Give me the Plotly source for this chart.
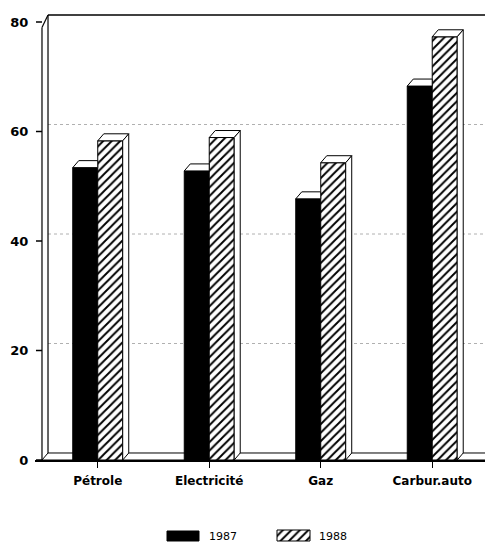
import plotly.graph_objects as go

# ---- data ----
categories = ["Pétrole", "Electricité", "Gaz", "Carbur.auto"]
values_1987 = [53.4, 52.8, 47.7, 68.3]
values_1988 = [58.3, 58.9, 54.3, 77.3]
series_names = ["1987", "1988"]
y_ticks = [0, 20, 40, 60, 80]

# ---- geometry / style ----
OFF = 8                 # page body margin
W, H = 493 - OFF, 548 - OFF
bar_w = 0.224           # width of one bar in category units
dx, dy = 0.054, 1.28    # 3D depth offset (x in category units, y in value units)
x_min, x_max = -0.56, 3.545
y_max = 81.5
px_left = 35.3 - OFF
px_bottom = 460 - OFF
px_top = 13.8 - OFF

fig = go.Figure()

xs = list(range(len(categories)))
x87 = [i - bar_w / 2 for i in xs]
x88 = [i + bar_w / 2 for i in xs]

fig.add_trace(go.Bar(
    x=x87, y=values_1987, width=bar_w, name=series_names[0],
    marker=dict(color="black", line=dict(color="black", width=1)),
    showlegend=False, xaxis="x", yaxis="y",
))
fig.add_trace(go.Bar(
    x=x88, y=values_1988, width=bar_w, name=series_names[1],
    marker=dict(color="white", line=dict(color="black", width=1),
                pattern=dict(shape="/", fgcolor="black", bgcolor="white",
                             size=6, solidity=0.32)),
    showlegend=False, xaxis="x", yaxis="y",
))

shapes = []

def poly(pts, fill="white", layer="above", width=1):
    d = "M " + " L ".join(f"{px},{py}" for px, py in pts) + " Z"
    return dict(type="path", path=d, xref="x", yref="y", fillcolor=fill,
                line=dict(color="black", width=width), layer=layer)

def seg(x0, y0, x1, y1, color="black", width=1.2, dash="solid", layer="below"):
    return dict(type="line", x0=x0, y0=y0, x1=x1, y1=y1, xref="x", yref="y",
                line=dict(color=color, width=width, dash=dash), layer=layer)

left = -0.5
right = len(categories) - 0.5

# floor slab
shapes.append(poly([(left, 0), (left + dx, dy), (right + dx, dy), (right, 0)],
                   layer="below"))
# back-wall dotted gridlines
for v in y_ticks[1:-1]:
    shapes.append(seg(left + dx, v + dy, x_max + 0.1, v + dy, color="#b0b0b0",
                      width=1, dash="dot"))
# back wall left edge and top edge
shapes.append(seg(left + dx, dy, left + dx, y_ticks[-1] + dy))
shapes.append(seg(left + dx, y_ticks[-1] + dy, x_max + 0.1, y_ticks[-1] + dy, width=1.5))
# front left edge and corner
shapes.append(seg(left, 0, left, y_ticks[-1] - 1))
shapes.append(seg(left, y_ticks[-1] - 1, left + dx, y_ticks[-1] + dy))
# y tick marks
for v in y_ticks:
    shapes.append(seg(left - dx, v, left, v, width=1.5, layer="above"))

# 3D faces of bars
for a0, v1, b0, v2 in zip(x87, values_1987, x88, values_1988):
    a_l, a_r = a0 - bar_w / 2, a0 + bar_w / 2
    b_l, b_r = b0 - bar_w / 2, b0 + bar_w / 2
    # top of 1987 bar (its right part hidden behind taller 1988 bar)
    if v1 < v2:
        shapes.append(poly([(a_l, v1), (a_l + dx, v1 + dy), (a_r, v1 + dy), (a_r, v1)]))
    else:
        shapes.append(poly([(a_l, v1), (a_l + dx, v1 + dy), (a_r + dx, v1 + dy), (a_r, v1)]))
    # top and side of 1988 bar
    shapes.append(poly([(b_l, v2), (b_l + dx, v2 + dy), (b_r + dx, v2 + dy), (b_r, v2)]))
    shapes.append(poly([(b_r, 0), (b_r, v2), (b_r + dx, v2 + dy), (b_r + dx, dy)]))

# ---- custom legend (pixel-based overlay axes, y measured up from figure bottom) ----
leg_h = 40
fig.add_trace(go.Scatter(
    x=[167 - OFF, 199 - OFF, 199 - OFF, 167 - OFF, 167 - OFF], y=[7, 7, 17, 17, 7],
    mode="lines", fill="toself", fillcolor="black", line=dict(color="black", width=1),
    xaxis="x2", yaxis="y2", showlegend=False, hoverinfo="skip",
))
fig.add_trace(go.Scatter(
    x=[277 - OFF, 310 - OFF, 310 - OFF, 277 - OFF, 277 - OFF], y=[7, 7, 18, 18, 7],
    mode="lines", fill="toself", fillcolor="white",
    fillpattern=dict(shape="/", fgcolor="black", bgcolor="white", size=6, solidity=0.32),
    line=dict(color="black", width=1),
    xaxis="x2", yaxis="y2", showlegend=False, hoverinfo="skip",
))
annotations = [
    dict(x=207 - OFF, y=11.5, xref="x2", yref="y2", text=series_names[0], showarrow=False,
         xanchor="left", yanchor="middle", font=dict(family="DejaVu Sans", size=11, color="black")),
    dict(x=317 - OFF, y=11.5, xref="x2", yref="y2", text=series_names[1], showarrow=False,
         xanchor="left", yanchor="middle", font=dict(family="DejaVu Sans", size=11, color="black")),
]

fig.update_layout(
    width=W, height=H,
    margin=dict(l=0, r=0, t=0, b=0, autoexpand=False),
    template="none",
    paper_bgcolor="white", plot_bgcolor="white",
    barmode="overlay",
    showlegend=False,
    shapes=shapes,
    annotations=annotations,
    xaxis=dict(
        domain=[px_left / W, 1], range=[x_min, x_max],
        tickvals=xs, ticktext=categories,
        ticks="outside", ticklen=6, tickwidth=1.2, tickcolor="black",
        showline=True, linecolor="black", linewidth=1.5,
        showgrid=False, zeroline=False, automargin=False,
        tickfont=dict(family="DejaVu Sans", size=12, color="black", weight="bold"),
        ticklabelstandoff=3,
    ),
    yaxis=dict(
        domain=[(H - px_bottom) / H, (H - px_top) / H], range=[0, y_max],
        tickvals=y_ticks, ticks="", showline=False, showgrid=False,
        zeroline=False, automargin=False,
        tickfont=dict(family="DejaVu Sans", size=13, color="black", weight="bold"),
        ticklabelstandoff=6,
    ),
    xaxis2=dict(domain=[0, 1], range=[0, W], visible=False, fixedrange=True),
    yaxis2=dict(domain=[0, leg_h / H], range=[0, leg_h], visible=False, fixedrange=True),
)

fig.write_html("out.html")
